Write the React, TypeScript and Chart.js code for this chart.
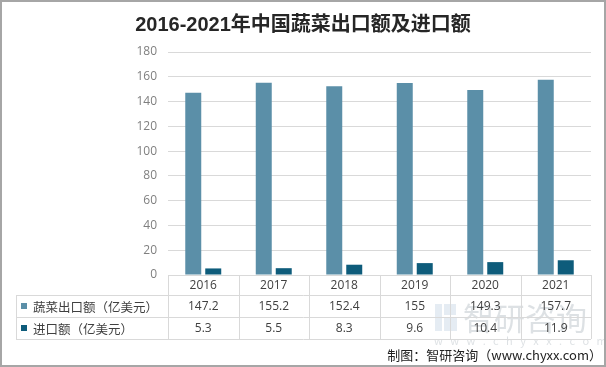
import React, { useEffect, useRef } from "react";
import { Chart, registerables } from "chart.js";

Chart.register(...registerables);

const years = ["2016", "2017", "2018", "2019", "2020", "2021"];
const exportValues = [147.2, 155.2, 152.4, 155, 149.3, 157.7];
const importValues = [5.3, 5.5, 8.3, 9.6, 10.4, 11.9];
const seriesNames = ["蔬菜出口额（亿美元）", "进口额（亿美元）"];
const yTicks = { min: 0, max: 180, step: 20 };
const titleText = "2016-2021年中国蔬菜出口额及进口额";
const footerText = "制图：智研咨询（www.chyxx.com）";

const EXPORT_COLOR = "#5B8FA8";
const IMPORT_COLOR = "#0E5C7B";
const GRID = "#D9D9D9";
const CJK = "'Noto Sans CJK SC', 'Noto Sans', sans-serif";
const NUM = "'Open Sans', 'Noto Sans CJK SC', sans-serif";

const tablePlugin = {
  id: "tablePlugin",
  afterDraw(chart: any) {
    const ctx = chart.ctx as CanvasRenderingContext2D;
    const xs = chart.scales.x;
    const area = chart.chartArea;
    const W = chart.width;
    const H = chart.height;
    const n = years.length;
    const cw = (area.right - area.left) / n;
    const top = area.bottom;
    const r1 = top + 20;
    const r2 = r1 + 22;
    const r3 = r2 + 22;
    const tableLeft = 16;

    ctx.save();

    // watermark
    ctx.globalAlpha = 0.3;
    ctx.fillStyle = "#A9C0D6";
    ctx.fillRect(435, 304, 7, 27);
    ctx.fillRect(444, 304, 12, 11);
    ctx.fillRect(444, 318, 13, 13);
    ctx.fillStyle = "#8E9AA6";
    ctx.font = `31px ${CJK}`;
    ctx.textBaseline = "middle";
    ctx.textAlign = "left";
    ctx.fillText("智研咨询", 463, 318);
    ctx.font = `11px ${CJK}`;
    ctx.fillText("w   w   w   .   c   h   y   x   x   .   c   o   m", 434, 341);
    ctx.globalAlpha = 1;

    // table lines
    ctx.strokeStyle = GRID;
    ctx.lineWidth = 1;
    ctx.beginPath();
    for (let i = 0; i <= n; i++) {
      const x = Math.round(area.left + i * cw) + 0.5;
      ctx.moveTo(x, top);
      ctx.lineTo(x, r3);
    }
    ctx.moveTo(tableLeft + 0.5, r1);
    ctx.lineTo(tableLeft + 0.5, r3);
    [r1, r2, r3].forEach((y) => {
      ctx.moveTo(tableLeft, Math.round(y) + 0.5);
      ctx.lineTo(area.right, Math.round(y) + 0.5);
    });
    ctx.moveTo(area.left, Math.round(top) + 0.5);
    ctx.lineTo(area.right, Math.round(top) + 0.5);
    ctx.stroke();

    // header + values
    ctx.fillStyle = "#404040";
    ctx.font = `12px ${NUM}`;
    ctx.textAlign = "center";
    ctx.textBaseline = "middle";
    years.forEach((yr, i) => {
      const cx = xs.getPixelForValue(i);
      ctx.fillText(yr, cx, (top + r1) / 2 + 1);
      ctx.fillText(String(exportValues[i]), cx, (r1 + r2) / 2 + 1);
      ctx.fillText(String(importValues[i]), cx, (r2 + r3) / 2 + 1);
    });

    // row legends
    ctx.textAlign = "left";
    ctx.font = `12.5px ${CJK}`;
    [EXPORT_COLOR, IMPORT_COLOR].forEach((c, k) => {
      const yc = k === 0 ? (r1 + r2) / 2 : (r2 + r3) / 2;
      ctx.fillStyle = c;
      ctx.fillRect(21, Math.round(yc) - 3, 6, 6);
      ctx.fillStyle = "#404040";
      ctx.fillText(seriesNames[k], 33, yc + 1);
    });

    // title
    ctx.fillStyle = "#262626";
    ctx.font = `bold 20px 'Liberation Sans', ${CJK}`;
    ctx.textAlign = "center";
    ctx.fillText(titleText, W / 2, 25);

    // footer
    ctx.fillStyle = "#222222";
    ctx.font = `13px ${CJK}`;
    ctx.textAlign = "right";
    ctx.fillText(footerText, W - 4, 355);

    // outer border
    ctx.strokeStyle = "#A6A6A6";
    ctx.lineWidth = 2;
    ctx.strokeRect(1, 1, W - 2, H - 2);
    ctx.restore();
  },
};

export default function App() {
  const ref = useRef<HTMLCanvasElement>(null);
  useEffect(() => {
    if (!ref.current) return;
    const chart = new Chart(ref.current, {
      type: "bar",
      data: {
        labels: years,
        datasets: [
          {
            label: seriesNames[0],
            data: exportValues,
            backgroundColor: EXPORT_COLOR,
            categoryPercentage: 0.567,
            barPercentage: 0.8,
          },
          {
            label: seriesNames[1],
            data: importValues,
            backgroundColor: IMPORT_COLOR,
            categoryPercentage: 0.567,
            barPercentage: 0.8,
          },
        ],
      },
      options: {
        responsive: false,
        animation: false,
        devicePixelRatio: 1,
        layout: { padding: { top: 52, right: 15, bottom: 92, left: 0 } },
        plugins: {
          legend: { display: false },
          title: { display: false },
          tooltip: { enabled: false },
        },
        scales: {
          x: { display: false },
          y: {
            min: yTicks.min,
            max: yTicks.max,
            ticks: {
              stepSize: yTicks.step,
              padding: 11,
              color: "#7F7F7F",
              font: { size: 12, family: NUM },
            },
            grid: { color: GRID, drawTicks: false },
            border: { display: false },
            afterFit: (s: any) => {
              s.width = 168;
            },
          },
        },
      },
      plugins: [tablePlugin],
    });
    return () => chart.destroy();
  }, []);
  return (
    <div style={{ position: "absolute", left: 0, top: 0, width: 606, height: 367, background: "#fff" }}>
      <canvas ref={ref} width={606} height={367} style={{ display: "block" }} />
    </div>
  );
}
